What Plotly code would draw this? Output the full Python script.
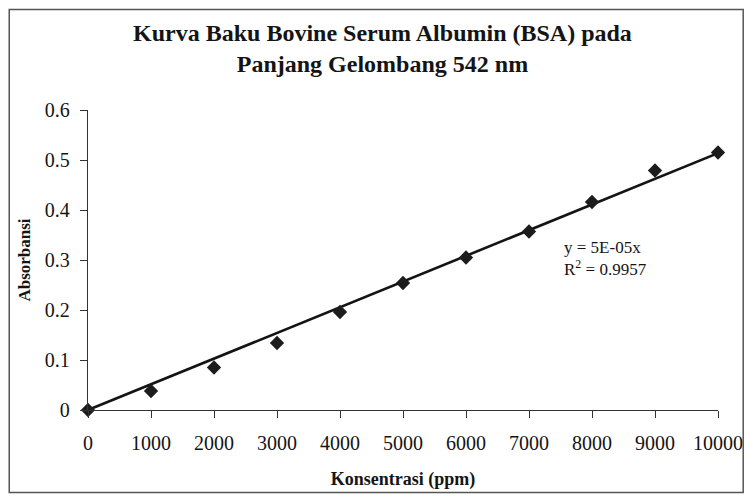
import numpy as np
import plotly.graph_objects as go

konsentrasi = [0, 1000, 2000, 3000, 4000, 5000, 6000, 7000, 8000, 9000, 10000]
absorbansi = [0, 0.038, 0.085, 0.134, 0.196, 0.254, 0.305, 0.357, 0.416, 0.479, 0.515]
x_ticks = [0, 1000, 2000, 3000, 4000, 5000, 6000, 7000, 8000, 9000, 10000]
x_tick_labels = ["0", "1000", "2000", "3000", "4000", "5000", "6000", "7000", "8000", "9000", "10000"]
y_ticks = [0, 0.1, 0.2, 0.3, 0.4, 0.5, 0.6]
y_tick_labels = ["0", "0.1", "0.2", "0.3", "0.4", "0.5", "0.6"]

xa = np.array(konsentrasi, float)
ya = np.array(absorbansi, float)
slope = (xa * ya).sum() / (xa * xa).sum()
line_x = [konsentrasi[0], konsentrasi[-1]]
line_y = [slope * v for v in line_x]

font = "Liberation Serif"
ink = "#141414"

fig = go.Figure()
fig.add_trace(go.Scatter(x=line_x, y=line_y, mode="lines",
                         line=dict(color=ink, width=2.6), showlegend=False))
fig.add_trace(go.Scatter(x=konsentrasi, y=absorbansi, mode="markers",
                         marker=dict(symbol="diamond", size=11, color="#1c1c1c"),
                         showlegend=False, cliponaxis=False))

fig.update_layout(
    width=747, height=496,
    margin=dict(l=88, r=29, t=110, b=86, autoexpand=False),
    paper_bgcolor="white", plot_bgcolor="white",
    font=dict(family=font, color=ink, size=20),
    title=dict(text="<b>Kurva Baku Bovine Serum Albumin (BSA) pada<br>Panjang Gelombang 542 nm</b>",
               x=0.512, xanchor="center", y=0.917, yanchor="middle", yref="container",
               font=dict(family=font, size=24, color=ink)),
    xaxis=dict(range=[0, 10000], tickvals=x_ticks, ticktext=x_tick_labels,
               ticks="outside", ticklen=7, tickcolor="#333", showline=True,
               linecolor="#333", linewidth=1.3, showgrid=False, zeroline=False,
               ticklabelstandoff=8, automargin=False,
               title=dict(text="<b>Konsentrasi (ppm)</b>", font=dict(size=18), standoff=19),
               tickfont=dict(size=20)),
    yaxis=dict(range=[0, 0.6], tickvals=y_ticks, ticktext=y_tick_labels, ticks="outside",
               ticklen=7, tickcolor="#333", showline=True, linecolor="#333", linewidth=1.3,
               showgrid=False, zeroline=False, ticklabelstandoff=6, automargin=False,
               title=dict(text="<b>Absorbansi</b>", font=dict(size=17), standoff=9),
               tickfont=dict(size=20)),
    shapes=[dict(type="rect", xref="paper", yref="paper",
                 x0=-0.125, x1=1.04, y0=-0.275, y1=1.335,
                 line=dict(color="#555555", width=1.5))],
    annotations=[
        dict(text="y = 5E-05x<br>R<sup>2</sup> = 0.9957", x=7530, y=0.303,
             xref="x", yref="y", showarrow=False, xanchor="left", yanchor="middle",
             align="left", font=dict(family=font, size=17, color=ink)),
    ],
)

fig.write_html("out.html", config={"displayModeBar": False},
               post_script="document.body.style.margin='0';")
